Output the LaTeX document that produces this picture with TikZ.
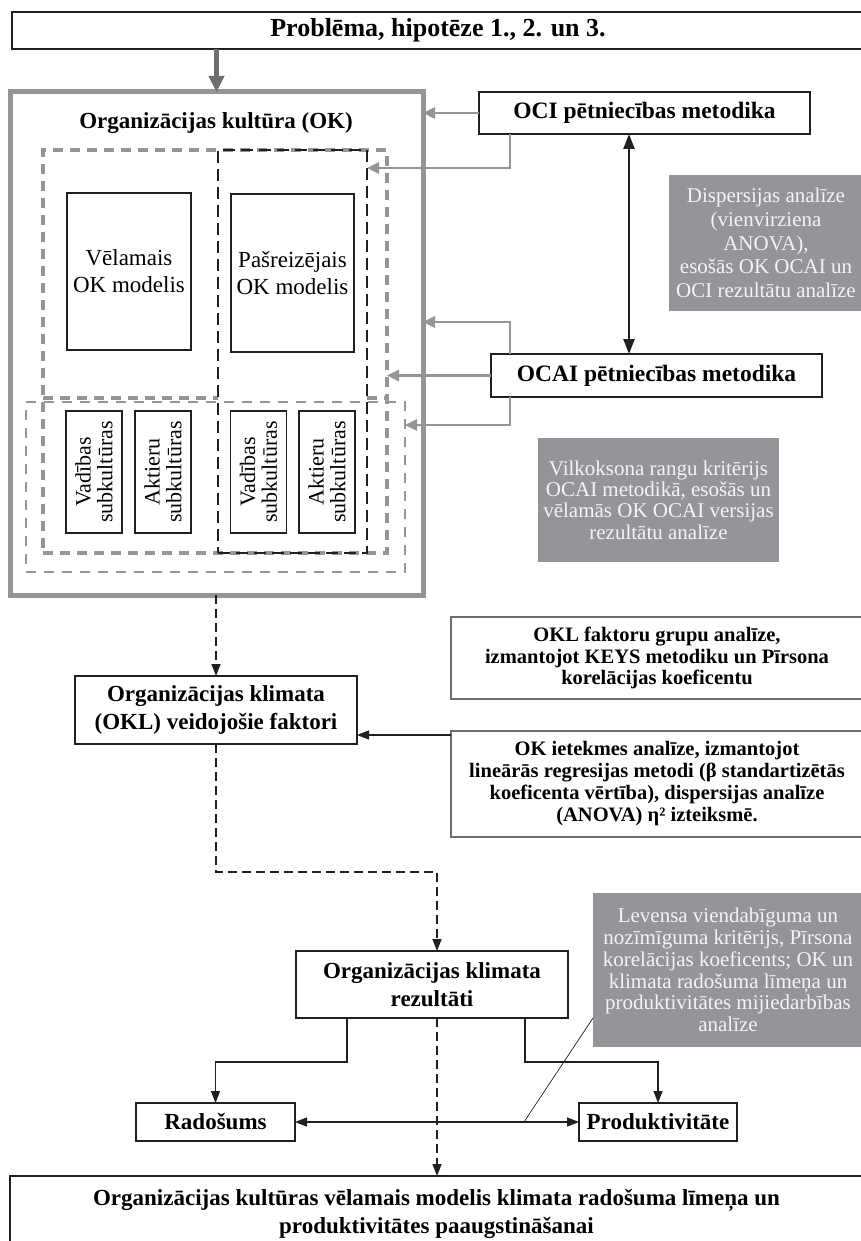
\documentclass[tikz,border=0pt]{standalone}
\usepackage{fontspec}
\setmainfont{Liberation Serif}
\usetikzlibrary{arrows.meta,calc}
\definecolor{ink}{HTML}{231F20}
\definecolor{midgray}{HTML}{939598}
\definecolor{deepgray}{HTML}{6D6E71}
\definecolor{paper}{HTML}{F4F4F5}
\newcommand{\fsz}[2]{\fontsize{#1}{#2}\selectfont}
\begin{document}
\begin{tikzpicture}[x=1pt,y=-1pt,
  box/.style={draw=ink, line width=1.6pt, fill=white, inner sep=2pt, outer sep=0pt,
              anchor=north west, align=center},
  titlebox/.style={box, font=\bfseries\fsz{23}{28}},
  plainbox/.style={box, line width=1.2pt, font=\fsz{23}{27}},
  subbox/.style={draw=ink, line width=1.2pt, fill=white, inner sep=0pt, outer sep=0pt,
              align=center, rotate=90, minimum width=122pt, minimum height=56pt,
              font=\fsz{22}{21.7}},
  notebox/.style={draw=deepgray, line width=1.2pt, fill=white, inner sep=2pt, outer sep=0pt,
              anchor=north west, align=center, font=\bfseries\fsz{20.5}{22}},
  shadebox/.style={fill=midgray, text=paper, inner sep=2pt, outer sep=0pt,
              anchor=north west, align=center},
  frame/.style={inner sep=0pt, outer sep=0pt, anchor=north west},
  gline/.style={draw=midgray, line width=2.5pt},
  garrow/.style={gline, -{Triangle[length=12pt,width=11pt]}},
  toparrow/.style={draw=deepgray, line width=5pt, -{Triangle[length=16pt,width=15pt]}},
  barrow/.style={draw=ink, line width=1.3pt, -{Triangle[length=12pt,width=9pt]}},
  lrarrow/.style={draw=ink, line width=1.3pt, {Triangle[length=12pt,width=9pt]}-{Triangle[length=12pt,width=9pt]}},
  dblarrow/.style={draw=ink, line width=2.4pt, {Triangle[length=15pt,width=11pt]}-{Triangle[length=15pt,width=11pt]}},
  darrow/.style={draw=ink, line width=1.6pt, dash pattern=on 9pt off 5pt,
              -{Triangle[length=12pt,width=9pt]}},
  thickdash/.style={draw=midgray, line width=4.5pt, dash pattern=on 10pt off 7pt},
  inkdash/.style={draw=ink, line width=1.3pt, dash pattern=on 12pt off 6pt},
  thindash/.style={draw=midgray, line width=2pt, dash pattern=on 10pt off 8pt},
]
\useasboundingbox (0,0) rectangle (861,1241);
\fill[white] (0,0) rectangle (861,1241);

% problem statement
\node[titlebox, font=\bfseries\fsz{26}{30}, minimum width=852pt, minimum height=37pt] (top) at (12,12)
  {Problēma, hipotēze 1., 2. un 3.};

% organisational culture container
\node[frame, draw=midgray, line width=5pt, minimum width=413pt, minimum height=503pt] (ok) at (10,92) {};
\node[font=\bfseries\fsz{23}{28}, inner sep=0pt] (oktitle) at (216,123) {Organizācijas kultūra (OK)};

\node[frame, thickdash, minimum width=344pt, minimum height=403pt] (A) at (43,150) {};
\node[frame, thindash, minimum width=379pt, minimum height=170pt] (C) at (26,402) {};
\draw[thickdash] (A.west |- 0,398) -- (218,398);
\draw[thickdash] (367,398) -- (A.east |- 0,398);
\node[frame, inkdash, minimum width=149pt, minimum height=403pt] (B) at (218,150) {};

\node[plainbox, minimum width=124pt, minimum height=157pt] (vel) at (67,193) {Vēlamais\\OK modelis};
\node[plainbox, minimum width=123pt, minimum height=158pt] (pas) at (231,194) {Pašreizējais\\OK modelis};

\node[subbox] (s1) at (94,472) {Vadības\\subkultūras};
\node[subbox] (s2) at (163,472) {Aktieru\\subkultūras};
\node[subbox] (s3) at (258.5,472) {Vadības\\subkultūras};
\node[subbox] (s4) at (327,472) {Aktieru\\subkultūras};

% research methods
\node[titlebox, font=\bfseries\fsz{23.5}{28}, minimum width=331pt, minimum height=42pt] (oci) at (479,92) {OCI pētniecības metodika};
\node[titlebox, font=\bfseries\fsz{23.5}{28}, minimum width=331pt, minimum height=43pt] (ocai) at (491,354) {OCAI pētniecības metodika};

\node[shadebox, font=\fsz{21}{23.7}, minimum width=194pt, minimum height=136pt] (disp) at (669,175)
  {Dispersijas analīze\\(vienvirziena\\ANOVA),\\esošās OK OCAI un\\OCI rezultātu analīze};
\node[shadebox, font=\fsz{21}{21.3}, minimum width=241pt, minimum height=124pt] (vilk) at (538,438)
  {Vilkoksona rangu kritērijs\\OCAI metodikā, esošās un\\vēlamās OK OCAI versijas\\rezultātu analīze};

\draw[garrow] (oci.west) -- (oci.west -| ok.east);
\draw[garrow] ($(oci.south west)+(31,0)$) |- (B.east |- 0,168);
\draw[garrow] ($(ocai.north west)+(19,0)$) |- (ok.east |- 0,322);
\draw[garrow] (ocai.west) -- (ocai.west -| A.east);
\draw[garrow] ($(ocai.south west)+(19,0)$) |- (C.east |- 0,425);
\draw[dblarrow] (oci.south -| 629,0) -- (ocai.north -| 629,0);

\draw[toparrow] (top.south -| ok.north) -- (ok.north);

% climate factors
\node[titlebox, minimum width=282pt, minimum height=68pt] (okl) at (75,676)
  {Organizācijas klimata\\(OKL) veidojošie faktori};
\node[notebox, font=\bfseries\fsz{20.5}{21.7}, minimum width=412pt, minimum height=82pt] (fg) at (451,617)
  {OKL faktoru grupu analīze,\\izmantojot KEYS metodiku un Pīrsona\\korelācijas koeficentu};
\node[notebox, minimum width=412pt, minimum height=106pt] (ie) at (451,731)
  {OK ietekmes analīze, izmantojot\\lineārās regresijas metodi (β standartizētās\\koeficenta vērtība), dispersijas analīze\\(ANOVA) η² izteiksmē.};

\draw[darrow] (ok.south -| okl.north) -- (okl.north);
\coordinate (ieport) at ($(ie.north west)+(0,4)$);
\draw[barrow] (ieport) -- (ieport -| okl.east);

% climate results
\node[titlebox, minimum width=272pt, minimum height=67pt] (rez) at (296,951)
  {Organizācijas klimata\\rezultāti};
\node[titlebox, minimum width=159pt, minimum height=38pt] (rad) at (136,1103) {Radošums};
\node[titlebox, minimum width=158pt, minimum height=38pt] (prod) at (579,1103) {Produktivitāte};
\node[shadebox, font=\fsz{21}{21.7}, minimum width=270pt, minimum height=154pt] (lev) at (593,893)
  {Levensa viendabīguma un\\nozīmīguma kritērijs, Pīrsona\\korelācijas koeficents; OK un\\klimata radošuma līmeņa un\\produktivitātes mijiedarbības\\analīze};
\node[titlebox, minimum width=853pt, minimum height=76pt] (bot) at (10,1176)
  {Organizācijas kultūras vēlamais modelis klimata radošuma līmeņa un\\produktivitātes paaugstināšanai};

\coordinate (kink) at (437,872);
\draw[darrow] (okl.south) |- (kink) -- (kink |- rez.north);
\draw[darrow] (kink |- rez.south) -- (kink |- bot.north);
\draw[barrow] ($(rez.south west)+(51,0)$) -- ++(0,44) -| (rad.north);
\draw[barrow] ($(rez.south west)+(229,0)$) -- ++(0,44) -| (prod.north);
\draw[lrarrow] (rad.east) -- (prod.west);
\coordinate (lfoot) at (524,1122);
\draw[draw=ink, line width=0.7pt] (lfoot) -- (lev.west |- 0,1018);
\end{tikzpicture}
\end{document}
